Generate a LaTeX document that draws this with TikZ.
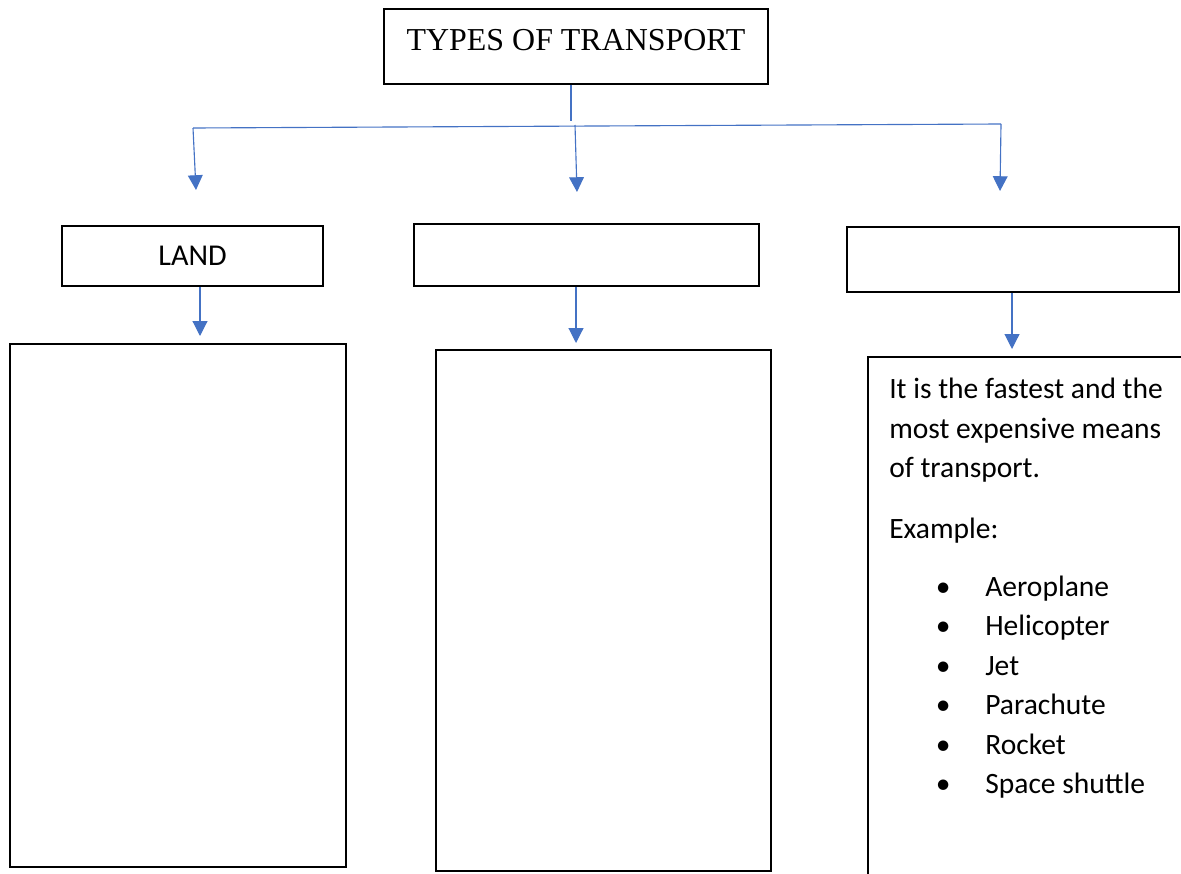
\documentclass[tikz,border=0pt]{standalone}
\usepackage{fontspec}
\setmainfont{Carlito}
\newfontfamily\titlefont{Liberation Serif}
\usetikzlibrary{arrows.meta}
\definecolor{linkblue}{HTML}{4472C4}
\newcommand{\airitem}[1]{\hspace*{1.1cm}\makebox[0.5cm]{\textbullet}\hspace*{0.8cm}#1}

\begin{document}
\begin{tikzpicture}[x=0.025cm,y=-0.025cm,
  box/.style={draw=black,line width=1.2pt,rectangle,inner sep=0pt},
  link/.style={draw=linkblue,line width=0.8pt},
  arrow/.style={link,-{Triangle[width=10.5pt,length=10.5pt]}}]
\useasboundingbox (0,0) rectangle (1181,873);
% title and the three kinds
\node[box,minimum width=9.6cm,minimum height=1.875cm,text depth=0.35cm,font=\titlefont\fontsize{22.7}{27}\selectfont] (title) at (576,46.5) {TYPES OF TRANSPORT};
\node[box,minimum width=6.525cm,minimum height=1.5cm,font=\fontsize{21.5}{26}\selectfont] (land) at (192.5,256) {LAND};
\node[box,minimum width=8.625cm,minimum height=1.55cm] (water) at (586.5,255) {};
\node[box,minimum width=8.3cm,minimum height=1.625cm] (air) at (1013,259.5) {};
% the big boxes
\node[box,minimum width=8.4cm,minimum height=13.075cm] (landbox) at (178,605.5) {};
\node[box,minimum width=8.375cm,minimum height=13.025cm] (waterbox) at (603.5,610.5) {};
\node[box,minimum width=8.175cm,minimum height=13.575cm] (airbox) at (1031.5,628.5) {};
\node[anchor=north west,inner sep=0pt,align=left,font=\fontsize{21}{28.1}\selectfont] (airtext) at (889,378)
  {It is the fastest and the\\most expensive means\\of transport.\\[0.54cm]
   Example:\\[0.44cm]
   \airitem{Aeroplane}\\\airitem{Helicopter}\\\airitem{Jet}\\
   \airitem{Parachute}\\\airitem{Rocket}\\\airitem{Space shuttle}};
% connectors
\coordinate (stem) at (571,121);
\coordinate (barL) at (193,128);
\coordinate (barM) at (575,125);
\coordinate (barR) at (1001,124);
\coordinate (tipL) at (196,190);
\coordinate (tipM) at (577,192);
\coordinate (tipR) at (1000,191);
\coordinate (tipA) at (200,336);
\coordinate (tipB) at (576,343);
\coordinate (tipC) at (1012,349);
\draw[link] (title.south -| stem) -- (stem);
\draw[link] (barL) -- (barR);
\draw[arrow] (barL) -- (tipL);
\draw[arrow] (barM) -- (tipM);
\draw[arrow] (barR) -- (tipR);
\draw[arrow] (land.south -| tipA) -- (tipA);
\draw[arrow] (water.south -| tipB) -- (tipB);
\draw[arrow] (air.south -| tipC) -- (tipC);
\end{tikzpicture}
\end{document}
